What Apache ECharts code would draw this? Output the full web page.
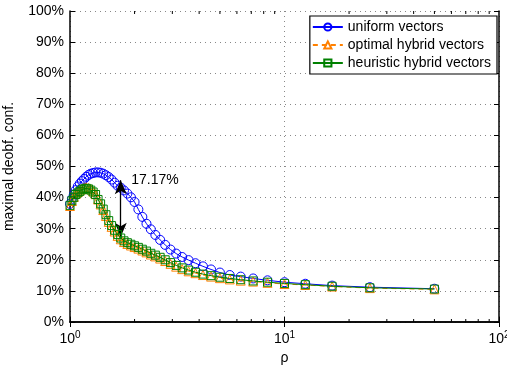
<!DOCTYPE html>
<html><head><meta charset="utf-8">
<script src="https://cdn.jsdelivr.net/npm/echarts@6/dist/echarts.min.js"></script>
<style>html,body{margin:0;padding:0;background:#fff}#c{width:507px;height:367px}</style>
</head><body><div id="c"></div>
<script>
// rho values (x)
const rho = [1, 1.0204, 1.0417, 1.0638, 1.0870, 1.1111, 1.1364, 1.1628, 1.1905, 1.2195,
  1.25, 1.2821, 1.3158, 1.3514, 1.3889, 1.4286, 1.4706, 1.5152, 1.5625, 1.6129,
  1.6667, 1.7241, 1.7857, 1.8519, 1.9231, 2, 2.0833, 2.1739, 2.2727, 2.381,
  2.5, 2.6316, 2.7778, 2.9412, 3.125, 3.3333, 3.5714, 3.8462, 4.1667, 4.5455,
  5, 5.5556, 6.25, 7.1429, 8.3333, 10, 12.5, 16.667, 25, 50];
// maximal deobf. conf. (%)
const uniform = [38.0, 39.6, 41.0, 42.4, 43.6, 44.5, 45.3, 46.0, 46.7, 47.3,
  47.7, 47.9, 48.1, 48.1, 48.0, 47.7, 47.2, 46.6, 45.8, 44.8,
  43.8, 43.2, 42.3, 41.3, 40.1, 38.6, 36.2, 33.8, 31.6, 29.8,
  28.0, 26.4, 24.8, 23.3, 22.0, 20.9, 19.9, 18.9, 17.9, 16.9,
  15.9, 15.1, 14.6, 14.0, 13.4, 12.8, 12.3, 11.7, 11.2, 10.7];
const optimal = [37.3, 38.9, 40.2, 41.2, 41.8, 42.3, 42.8, 43.1, 43.3, 43.1,
  42.7, 42.0, 41.1, 39.4, 37.8, 36.0, 34.1, 32.2, 30.6, 29.1,
  27.7, 26.6, 25.7, 25.1, 24.6, 24.1, 23.6, 23.0, 22.4, 21.7,
  21.1, 20.4, 19.6, 18.7, 17.8, 17.0, 16.3, 15.7, 15.1, 14.6,
  14.1, 13.7, 13.3, 13.0, 12.6, 12.2, 11.9, 11.4, 10.9, 10.5];
const heuristic = [37.5, 39.0, 40.1, 41.0, 41.5, 42.0, 42.5, 42.8, 43.0, 42.8,
  42.4, 41.8, 41.0, 39.4, 38.0, 36.3, 34.5, 32.6, 31.0, 29.5,
  28.1, 27.0, 26.1, 25.5, 25.0, 24.5, 24.0, 23.4, 22.8, 22.1,
  21.5, 20.8, 20.0, 19.1, 18.2, 17.4, 16.7, 16.0, 15.4, 14.9,
  14.4, 14.0, 13.6, 13.2, 12.8, 12.4, 12.0, 11.5, 11.0, 10.6];
const seriesNames = ['uniform vectors', 'optimal hybrid vectors', 'heuristic hybrid vectors'];
const xMinorTicks = [2, 3, 4, 5, 6, 7, 8, 9, 20, 30, 40, 50, 60, 70, 80, 90];
const gapLabel = '17.17%';
const gapRho = 1.7241;
const gapTop = 45.6, gapBottom = 27.4;
const gapLabelPos = [1.93, 45.7];

const FONT = 'Liberation Sans, Arial, sans-serif';
const chart = echarts.init(document.getElementById('c'));
const zip = (xs, ys) => xs.map((x, i) => [x, ys[i]]);

const xLabel = v => '{b|10}{s|' + Math.round(Math.log10(v)) + '}';

const option = {
  animation: false,
  textStyle: {fontFamily: FONT},
  grid: {left: 70, right: 8, top: 11, bottom: 45, containLabel: false, outerBoundsMode: 'none'},
  legend: {
    orient: 'vertical', right: 10, top: 16,
    data: seriesNames,
    backgroundColor: '#fff', borderColor: '#000', borderWidth: 1.2,
    padding: [3, 6, 3, 2], itemGap: 2, itemWidth: 30, itemHeight: 9,
    textStyle: {fontSize: 14, color: '#000', fontFamily: FONT, lineHeight: 16}
  },
  xAxis: [{
    type: 'log', logBase: 10, min: 1, max: 100,
    name: 'ρ', nameLocation: 'middle', nameGap: 28,
    nameTextStyle: {fontSize: 14, color: '#000', fontFamily: FONT},
    axisLine: {lineStyle: {color: '#000', width: 1.5}},
    axisTick: {inside: true, length: 5, lineStyle: {color: '#000'}},
    axisLabel: {formatter: xLabel, margin: 8, color: '#000',
      rich: {b: {fontSize: 14, color: '#000', fontFamily: FONT},
             s: {fontSize: 10, color: '#000', fontFamily: FONT, verticalAlign: 'top', padding: [0, 0, 8, 0]}}},
    splitLine: {show: true, lineStyle: {color: '#888', type: [1, 4], width: 1}}
  }, {
    type: 'log', logBase: 10, min: 1, max: 100, position: 'top',
    axisLine: {lineStyle: {color: '#000', width: 1.5}},
    axisTick: {inside: true, length: 5, lineStyle: {color: '#000'}},
    axisLabel: {show: false}, splitLine: {show: false}
  }],
  yAxis: [{
    type: 'value', min: 0, max: 100, interval: 10,
    name: 'maximal deobf. conf.', nameLocation: 'middle', nameGap: 54, nameMoveOverlap: false,
    nameTextStyle: {fontSize: 14, color: '#000', fontFamily: FONT},
    axisLine: {show: true, lineStyle: {color: '#000', width: 1.5}},
    axisTick: {show: true, inside: true, length: 5, lineStyle: {color: '#000'}},
    axisLabel: {formatter: '{value}%', fontSize: 14, color: '#000', margin: 6, fontFamily: FONT},
    splitLine: {show: true, lineStyle: {color: '#888', type: [1, 4], width: 1}}
  }, {
    type: 'value', min: 0, max: 100, interval: 10, position: 'right',
    axisLine: {show: true, lineStyle: {color: '#000', width: 1.5}},
    axisTick: {show: true, inside: true, length: 5, lineStyle: {color: '#000'}},
    axisLabel: {show: false}, splitLine: {show: false}
  }],
  series: [{
    name: seriesNames[0], type: 'line', data: zip(rho, uniform),
    symbol: 'circle', symbolSize: 9, showAllSymbol: true,
    itemStyle: {color: 'rgba(255,255,255,0)', borderColor: '#0000ff', borderWidth: 1},
    lineStyle: {color: '#0000ff', width: 1}, z: 3,
    markLine: {
      silent: true, symbol: ['arrow', 'arrow'], symbolSize: [9, 14],
      lineStyle: {color: '#000', width: 1.3, type: 'solid'},
      label: {show: false},
      data: [[{coord: [gapRho, gapTop]}, {coord: [gapRho, gapBottom]}]]
    },
    markPoint: {
      silent: true, symbol: 'circle', symbolSize: 0,
      label: {show: true, position: 'right', distance: 0, formatter: gapLabel,
        fontSize: 14, color: '#000', fontFamily: FONT},
      data: [{coord: gapLabelPos}]
    }
  }, {
    name: seriesNames[1], type: 'line', data: zip(rho, optimal),
    symbol: 'triangle', symbolSize: 9, showAllSymbol: true,
    itemStyle: {color: 'rgba(255,255,255,0)', borderColor: '#ff8000', borderWidth: 1},
    lineStyle: {color: '#ff8000', width: 1, type: [5, 4]}, z: 4
  }, {
    name: seriesNames[2], type: 'line', data: zip(rho, heuristic),
    symbol: 'rect', symbolSize: 8, showAllSymbol: true,
    itemStyle: {color: 'rgba(255,255,255,0)', borderColor: '#008000', borderWidth: 1},
    lineStyle: {color: '#008000', width: 1}, z: 5
  }, {
    type: 'custom', silent: true, z: 6,
    data: xMinorTicks.map(v => [v, 0]),
    renderItem: (params, api) => {
      const cs = params.coordSys;
      const x = api.coord([api.value(0), 0])[0];
      return {type: 'group', children: [
        {type: 'line', shape: {x1: x, y1: cs.y + cs.height, x2: x, y2: cs.y + cs.height - 3}, style: {stroke: '#000', lineWidth: 1}},
        {type: 'line', shape: {x1: x, y1: cs.y, x2: x, y2: cs.y + 3}, style: {stroke: '#000', lineWidth: 1}}
      ]};
    }
  }]
};
chart.setOption(option);
</script></body></html>
